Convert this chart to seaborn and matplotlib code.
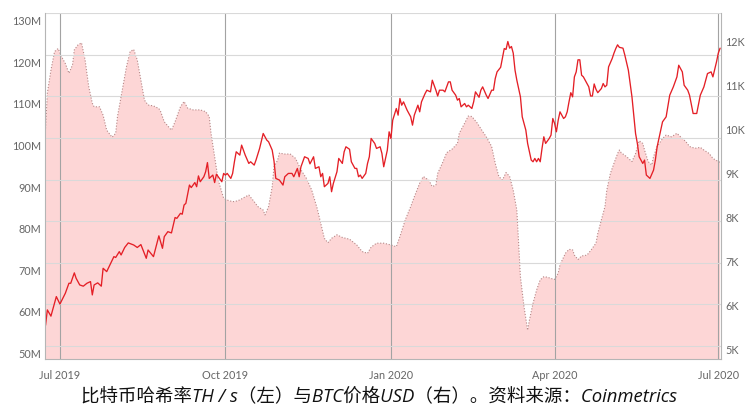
import matplotlib
matplotlib.use("Agg")
import matplotlib.pyplot as plt
from matplotlib.ticker import FuncFormatter
from matplotlib.transforms import ScaledTranslation
import pandas as pd
import seaborn as sns

sns.set_theme(style="white")
plt.rcParams["font.family"] = ["Lato", "Noto Sans CJK SC", "DejaVu Sans"]

# ── data ─────────────────────────────────────────────────────────────────
START = pd.Timestamp("2019-07-01")

# hash rate (left axis, millions TH/s), days since 2019-07-01
hash_day = [-8, -7, -5, -2, 0, 3, 5, 6, 8, 9, 11, 13, 15, 17, 18, 19, 21, 23, 24, 26,
            28, 30, 31, 33, 34, 36, 38, 41, 43, 45, 48, 49, 52, 55, 57, 58, 60, 62, 64, 65,
            67, 68, 69, 70, 72, 73, 75, 76, 77, 78, 80, 81, 82, 83, 85, 86, 87, 88, 90, 91,
            92, 93, 95, 96, 97, 98, 100, 101, 103, 105, 106, 108, 109, 111, 113, 115, 116, 118, 119, 120,
            122, 124, 125, 127, 129, 130, 132, 133, 134, 136, 138, 139, 141, 142, 144, 145, 146, 147, 149, 150,
            151, 152, 154, 155, 157, 158, 159, 161, 162, 164, 165, 166, 167, 168, 170, 171, 172, 173, 175, 176,
            178, 179, 180, 182, 183, 184, 185, 187, 188, 189, 190, 191, 193, 194, 195, 196, 197, 199, 200, 201,
            203, 204, 206, 207, 209, 210, 211, 213, 214, 216, 217, 218, 220, 221, 222, 223, 225, 226, 227, 229,
            230, 231, 233, 234, 235, 237, 238, 240, 241, 242, 243, 245, 246, 247, 248, 249, 250, 251, 252, 253,
            254, 256, 257, 259, 260, 262, 263, 264, 265, 266, 267, 268, 269, 270, 272, 273, 274, 275, 276, 277,
            278, 280, 281, 282, 283, 284, 285, 286, 287, 288, 289, 290, 291, 292, 294, 295, 296, 297, 298, 299,
            301, 302, 303, 304, 305, 307, 308, 309, 310, 311, 313, 314, 316, 318, 320, 321, 322, 324, 325, 326,
            327, 328, 330, 331, 332, 334, 335, 337, 339, 341, 343, 344, 346, 347, 349, 350, 352, 354, 356, 358,
            360, 362, 363, 365, 366, 367]
hash_rate = [55.0, 58.7, 57.2, 61.9, 60.1, 62.7, 65.1, 65.1, 67.6, 66.3, 64.7, 64.4, 65.1, 65.5, 62.3, 64.7, 65.2, 64.4, 68.7, 67.9,
             69.7, 71.5, 71.3, 72.7, 71.9, 73.7, 74.8, 74.3, 73.7, 74.4, 71.1, 73.1, 71.5, 76.5, 73.5, 76.3, 77.5, 77.2, 80.9, 80.7,
             81.9, 81.7, 83.9, 84.3, 88.7, 88.1, 89.3, 88.3, 90.9, 89.5, 90.7, 91.9, 94.1, 90.3, 91.1, 89.3, 91.3, 90.7, 89.5, 91.5,
             91.1, 91.5, 90.3, 91.5, 94.3, 96.7, 95.9, 98.3, 95.9, 93.9, 94.3, 93.5, 94.7, 97.5, 101.1, 99.5, 99.1, 97.1, 94.5, 90.3,
             89.9, 88.7, 90.7, 91.5, 91.5, 90.7, 92.7, 90.7, 93.1, 95.5, 95.1, 93.8, 95.5, 92.7, 93.1, 90.7, 91.5, 88.3, 89.1, 90.7,
             87.1, 89.1, 91.9, 95.1, 93.9, 96.7, 97.9, 97.3, 94.3, 92.7, 92.7, 90.7, 91.1, 90.3, 91.5, 93.9, 95.5, 99.9, 98.7, 97.5,
             97.9, 96.3, 93.1, 97.1, 101.5, 99.9, 104.3, 107.1, 105.5, 109.5, 107.9, 108.7, 106.7, 105.9, 105.1, 103.1, 105.5, 107.9, 106.3, 108.7,
             110.7, 111.5, 111.1, 113.9, 111.5, 110.1, 111.5, 111.5, 111.1, 113.5, 113.5, 111.5, 110.3, 109.1, 109.5, 107.5, 108.3, 107.5, 107.9, 107.1,
             108.7, 111.1, 109.8, 111.5, 112.3, 110.3, 109.5, 111.5, 111.5, 114.3, 115.9, 117.0, 119.3, 121.5, 121.3, 123.2, 121.6, 122.0, 120.4, 116.3,
             113.9, 109.9, 105.1, 101.9, 98.7, 94.7, 94.3, 95.1, 94.3, 95.1, 94.3, 97.5, 100.3, 98.7, 99.9, 100.7, 104.7, 103.5, 101.5, 104.3,
             106.3, 104.7, 105.1, 106.3, 108.7, 110.9, 109.9, 114.7, 115.9, 118.8, 118.8, 115.1, 114.7, 113.9, 112.3, 110.1, 110.1, 113.0, 111.7, 110.9,
             111.9, 113.1, 112.3, 112.7, 117.1, 119.1, 120.4, 121.5, 122.4, 121.8, 121.6, 120.0, 116.3, 109.9, 101.1, 98.7, 95.5, 93.9, 94.7, 91.1,
             90.7, 90.3, 92.3, 94.7, 97.9, 101.9, 103.9, 105.1, 110.3, 112.3, 114.7, 117.5, 115.9, 112.7, 111.5, 110.3, 105.9, 105.9, 110.3, 112.3,
             115.5, 115.9, 114.7, 118.3, 120.4, 121.6]

# BTC price (right axis, thousands USD), days since 2019-07-01
price_day = [-8, -7, -5, -3, -1, 1, 3, 5, 7, 8, 10, 12, 14, 16, 18, 19, 22, 24, 26, 29,
             31, 32, 35, 37, 39, 41, 43, 45, 47, 49, 52, 55, 56, 58, 62, 64, 67, 69, 71, 74,
             78, 81, 83, 84, 86, 88, 91, 94, 97, 100, 103, 105, 108, 110, 113, 114, 116, 118, 119, 121,
             122, 125, 128, 131, 134, 137, 140, 143, 145, 147, 149, 151, 154, 157, 161, 165, 168, 171, 173, 176,
             180, 184, 187, 189, 192, 195, 197, 200, 202, 205, 207, 209, 210, 213, 215, 218, 221, 222, 225, 227,
             229, 232, 235, 237, 240, 242, 244, 246, 248, 250, 252, 254, 255, 256, 258, 260, 261, 263, 265, 267,
             269, 271, 273, 275, 277, 278, 281, 283, 285, 286, 288, 290, 293, 295, 298, 299, 301, 303, 304, 306,
             308, 310, 311, 312, 315, 318, 320, 322, 324, 325, 327, 329, 330, 332, 335, 337, 340, 343, 345, 348,
             350, 353, 356, 358, 361, 363, 366, 367]
btc_price = [10.02, 10.82, 11.34, 11.76, 11.83, 11.64, 11.49, 11.27, 11.46, 11.80, 11.91, 11.96, 11.57, 10.97, 10.59, 10.51, 10.51, 10.32, 9.98, 9.82,
             9.91, 10.29, 10.97, 11.42, 11.76, 11.81, 11.57, 11.12, 10.66, 10.55, 10.53, 10.47, 10.40, 10.17, 9.98, 10.17, 10.51, 10.63, 10.48, 10.44,
             10.44, 10.40, 10.29, 9.91, 9.38, 8.85, 8.44, 8.38, 8.36, 8.40, 8.47, 8.51, 8.36, 8.25, 8.17, 8.06, 8.25, 8.70, 9.15, 9.30,
             9.46, 9.44, 9.44, 9.34, 9.08, 8.89, 8.62, 8.21, 7.87, 7.53, 7.43, 7.53, 7.61, 7.55, 7.51, 7.38, 7.23, 7.19, 7.33, 7.42,
             7.42, 7.38, 7.34, 7.57, 7.95, 8.25, 8.47, 8.78, 8.93, 8.85, 8.70, 8.74, 9.00, 9.27, 9.47, 9.55, 9.68, 9.91, 10.14, 10.30,
             10.29, 10.14, 9.95, 9.83, 9.61, 9.23, 8.93, 8.85, 9.02, 8.93, 8.62, 8.17, 7.42, 6.66, 5.98, 5.45, 5.68, 6.06, 6.36, 6.59,
             6.66, 6.65, 6.62, 6.60, 6.74, 6.93, 7.19, 7.28, 7.27, 7.15, 7.05, 7.13, 7.15, 7.25, 7.42, 7.64, 7.95, 8.25, 8.62, 9.00,
             9.23, 9.45, 9.53, 9.47, 9.38, 9.27, 9.45, 9.74, 9.68, 9.53, 9.27, 9.19, 9.38, 9.61, 9.79, 9.87, 9.83, 9.91, 9.83, 9.72,
             9.61, 9.57, 9.59, 9.53, 9.45, 9.34, 9.27, 9.25]

x_tick_dates = ["2019-07-01", "2019-10-01", "2020-01-01", "2020-04-01", "2020-07-01"]
x_tick_labels = ["Jul 2019", "Oct 2019", "Jan 2020", "Apr 2020", "Jul 2020"]
left_ticks = [50, 60, 70, 80, 90, 100, 110, 120, 130]
right_ticks = [5, 6, 7, 8, 9, 10, 11, 12]
caption = "比特币哈希率TH / s（左）与BTC价格USD（右）。资料来源：Coinmetrics"

hash_df = pd.DataFrame({
    "date": START + pd.to_timedelta(hash_day, unit="D"),
    "hashrate": hash_rate,
})
price_df = pd.DataFrame({
    "date": START + pd.to_timedelta(price_day, unit="D"),
    "price": btc_price,
})

LINE_RED = "#e41f26"
AREA_PINK = "#fdd6d6"
DOT_COLOR = "#b58787"
TICK_GREY = "#666666"

fig = plt.figure(figsize=(7.5, 4.09), dpi=100)
ax = fig.add_axes([45 / 750, 1 - 359 / 409, 676 / 750, 346 / 409])
ax2 = ax.twinx()
ax.set_zorder(ax2.get_zorder() + 1)
ax.patch.set_visible(False)

# price area on the right axis
ax2.fill_between(price_df["date"], price_df["price"], 0, color=AREA_PINK, lw=0)
sns.lineplot(data=price_df, x="date", y="price", ax=ax2, color=DOT_COLOR,
             lw=0.8, linestyle=(0, (1, 1.6)))

# hash rate line on the left axis
sns.lineplot(data=hash_df, x="date", y="hashrate", ax=ax, color=LINE_RED, lw=0.95)

ax.set_xlim(START - pd.Timedelta(days=8.3), START + pd.Timedelta(days=367.5))
ax.set_ylim(46.9, 130.05)
ax2.set_ylim(4.796, 12.635)

ax.set_xticks(pd.to_datetime(x_tick_dates))
ax.set_xticklabels(x_tick_labels)
ax.set_yticks(left_ticks)
ax.yaxis.set_major_formatter(FuncFormatter(lambda v, _: f"{v:.0f}M"))
ax2.set_yticks(right_ticks)
ax2.yaxis.set_major_formatter(FuncFormatter(lambda v, _: f"{v:.0f}K"))

ax.set_xlabel("")
ax.set_ylabel("")
ax2.set_ylabel("")

ax.grid(False)
ax2.grid(False)
ax.set_axisbelow(True)
ax.yaxis.grid(True, color="#d9d9d9", lw=0.8)
ax.xaxis.grid(True, color="#a3a3a3", lw=0.8)

ax.tick_params(axis="y", length=0, pad=3, labelsize=7.8, labelcolor=TICK_GREY)
ax.tick_params(axis="x", length=0, pad=8, labelsize=7.8, labelcolor=TICK_GREY)
ax2.tick_params(axis="y", length=0, pad=3, labelsize=7.8, labelcolor=TICK_GREY)

for side in ["top", "right"]:
    ax.spines[side].set_visible(False)
for side in ["top", "left", "bottom"]:
    ax2.spines[side].set_visible(False)
for sp in [ax.spines["left"], ax.spines["bottom"], ax2.spines["right"]]:
    sp.set_color("#b5b5b5")
    sp.set_linewidth(0.8)

# left labels sit a little below their gridlines, as in the source chart
shift = ScaledTranslation(0, -0.075, fig.dpi_scale_trans)
for lbl in ax.get_yticklabels():
    lbl.set_transform(lbl.get_transform() + shift)

fig.text(0.505, 1 - 396 / 409, caption, ha="center", va="center",
         fontsize=13.3, style="italic", color="#111111",
         family=["Open Sans", "Noto Sans CJK SC", "DejaVu Sans"])

fig.savefig("out.png", dpi=100)
plt.close(fig)
